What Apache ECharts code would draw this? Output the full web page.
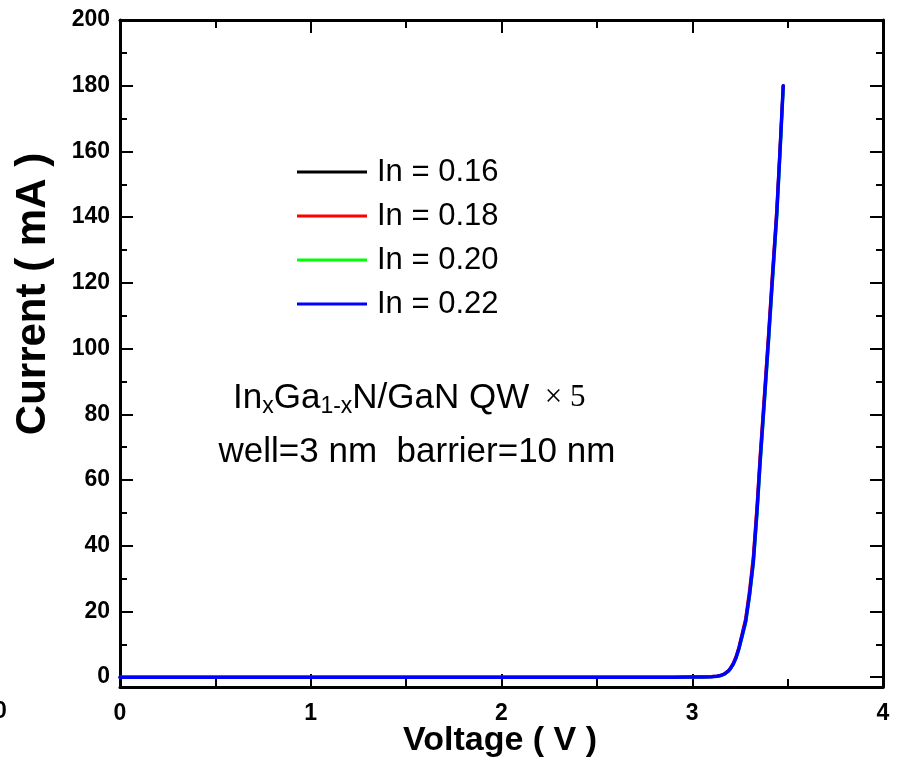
<!DOCTYPE html>
<html>
<head>
<meta charset="utf-8">
<script src="https://cdn.jsdelivr.net/npm/echarts@6/dist/echarts.min.js"></script>
<style>
html,body{margin:0;padding:0;background:#fff;}
#chart{width:900px;height:766px;}
</style>
</head>
<body>
<div id="chart"></div>
<script>
// ---- data ----
const seriesNames = ['In = 0.16', 'In = 0.18', 'In = 0.20', 'In = 0.22'];
const seriesColors = ['#000000', '#ff0000', '#00ff00', '#0000ff'];
const voltage = [0, 0.5, 1.0, 1.5, 2.0, 2.5, 2.9, 3.0, 3.05, 3.1, 3.13, 3.15, 3.17, 3.19, 3.2, 3.215, 3.23, 3.245, 3.26, 3.28, 3.30, 3.32, 3.34, 3.355, 3.38, 3.40, 3.42, 3.443, 3.46, 3.477];
const current16 = [0, 0, 0, 0, 0, 0, 0, 0.02, 0.05, 0.15, 0.3, 0.5, 1.0, 1.9, 2.6, 4.0, 6.0, 8.8, 12.3, 17.0, 25.0, 35.0, 51.0, 65.0, 86.0, 103.0, 121.0, 141.0, 160.0, 180.0];
const current18 = [0, 0, 0, 0, 0, 0, 0, 0.02, 0.06, 0.17, 0.33, 0.55, 1.1, 2.05, 2.8, 4.3, 6.4, 9.3, 13.0, 18.0, 26.5, 37.0, 53.0, 67.0, 88.0, 105.0, 123.0, 142.5, 161.0, 180.0];
const current20 = [0, 0, 0, 0, 0, 0, 0, 0.02, 0.05, 0.14, 0.29, 0.48, 0.95, 1.8, 2.5, 3.85, 5.8, 8.5, 11.8, 16.4, 24.2, 34.0, 49.5, 63.5, 84.5, 101.5, 119.5, 139.5, 158.5, 179.0];
const current22 = [0, 0, 0, 0, 0, 0, 0, 0.02, 0.05, 0.15, 0.3, 0.5, 1.0, 1.9, 2.6, 4.0, 6.0, 8.8, 12.3, 17.0, 25.0, 35.0, 51.0, 65.0, 86.0, 103.0, 121.0, 141.0, 160.0, 180.0];
const currents = [current16, current18, current20, current22];
const xTickInterval = 1;
const yTickInterval = 20;

const FONT = "'Liberation Sans', Arial, sans-serif";

function pairs(xs, ys) { return xs.map((x, i) => [x, ys[i]]); }

const chart = echarts.init(document.getElementById('chart'), null, {renderer: 'canvas'});

const commonX = {
  type: 'value', min: 0, max: 4, interval: xTickInterval,
  axisLine: {onZero: false, lineStyle: {color: '#000', width: 3}},
  axisTick: {inside: true, length: 13, lineStyle: {color: '#000', width: 2}},
  minorTick: {show: true, splitNumber: 2, length: 8, lineStyle: {color: '#000', width: 2}},
  splitLine: {show: false}
};
const commonY = {
  type: 'value', min: -3, max: 200, minInterval: yTickInterval, maxInterval: yTickInterval, splitNumber: 10,
  axisLine: {onZero: false, lineStyle: {color: '#000', width: 3}},
  axisTick: {inside: true, length: 13, lineStyle: {color: '#000', width: 2}},
  minorTick: {show: true, splitNumber: 2, length: 7, lineStyle: {color: '#000', width: 2}},
  splitLine: {show: false}
};

const option = {
  backgroundColor: '#fff',
  animation: false,
  grid: {left: 120, right: 17, top: 20, bottom: 79, containLabel: false},
  legend: {
    data: seriesNames,
    orient: 'vertical',
    left: 297, top: 155,
    padding: 0,
    icon: 'rect',
    itemWidth: 70, itemHeight: 3, itemGap: 10,
    textStyle: {fontFamily: FONT, fontSize: 31, lineHeight: 34, color: '#000', padding: [0, 0, 0, 5]}
  },
  xAxis: [
    Object.assign({}, commonX, {
      position: 'bottom',
      axisLabel: {margin: 15, fontFamily: FONT, fontSize: 23, fontWeight: 'bold', color: '#000'}
    }),
    Object.assign({}, commonX, {position: 'top', axisLabel: {show: false}})
  ],
  yAxis: [
    Object.assign({}, commonY, {
      position: 'left',
      axisLabel: {margin: 10, fontFamily: FONT, fontSize: 23, fontWeight: 'bold', color: '#000',
        formatter: v => (v < 0 ? '' : String(v))}
    }),
    Object.assign({}, commonY, {position: 'right', axisLabel: {show: false}})
  ],
  series: seriesNames.map((name, i) => ({
    name: name,
    type: 'line',
    xAxisIndex: 0, yAxisIndex: 0,
    data: pairs(voltage, currents[i]),
    symbol: 'none',
    smooth: false,
    color: seriesColors[i],
    lineStyle: {color: seriesColors[i], width: i === 3 ? 3.5 : 3, join: 'round', cap: 'round'},
    z: 2 + i
  })),
  graphic: [
    {
      type: 'text', x: 33, y: 294, rotation: Math.PI / 2,
      style: {text: 'Current ( mA )', fontFamily: FONT, fontSize: 42, fontWeight: 'bold', fill: '#000',
        align: 'center', verticalAlign: 'middle'}
    },
    {
      type: 'text', x: 500, y: 741,
      style: {text: 'Voltage ( V )', fontFamily: FONT, fontSize: 34, fontWeight: 'bold', fill: '#000',
        align: 'center', verticalAlign: 'middle'}
    },
    {
      type: 'text', x: -6, y: 712,
      style: {text: '0', fontFamily: FONT, fontSize: 23, fontWeight: 'bold', fill: '#000',
        align: 'left', verticalAlign: 'middle'}
    },
    {
      type: 'text', x: 233, y: 398,
      style: {
        text: '{m|In}{s|x}{m|Ga}{s|1-x}{m|N/GaN QW}{t|  × 5}',
        verticalAlign: 'middle', align: 'left',
        rich: {
          m: {fontFamily: FONT, fontSize: 35, lineHeight: 40, fill: '#000', verticalAlign: 'middle'},
          s: {fontFamily: FONT, fontSize: 23, lineHeight: 24, fill: '#000', verticalAlign: 'bottom'},
          t: {fontFamily: "'Liberation Serif', 'Times New Roman', serif", fontSize: 31, lineHeight: 40, fill: '#000', verticalAlign: 'middle'}
        }
      }
    },
    {
      type: 'text', x: 417, y: 452,
      style: {text: 'well=3 nm  barrier=10 nm', fontFamily: FONT, fontSize: 35, fill: '#000',
        align: 'center', verticalAlign: 'middle'}
    }
  ]
};
chart.setOption(option);
</script>
</body>
</html>
